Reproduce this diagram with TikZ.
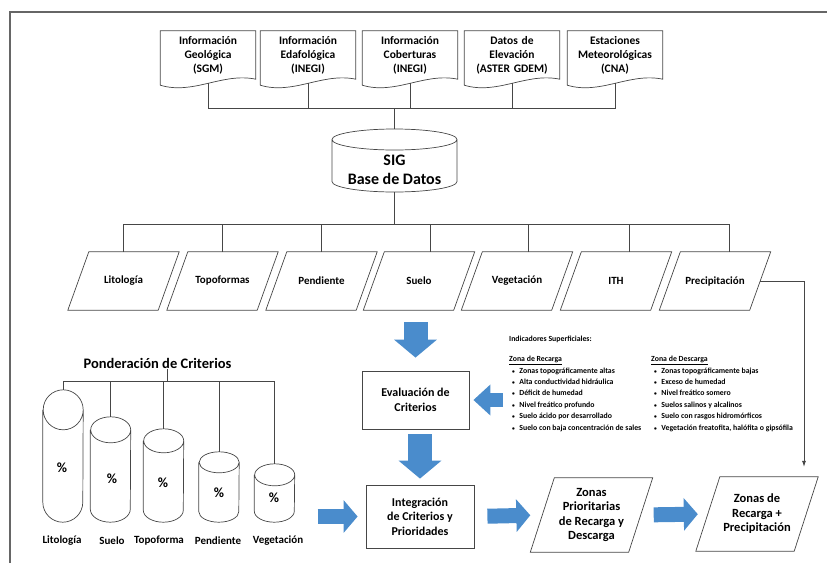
\documentclass[tikz,border=0pt]{standalone}
\usepackage{fontspec}
\setmainfont{Carlito}
\usetikzlibrary{arrows.meta,positioning}

\definecolor{lineg}{RGB}{70,70,70}
\definecolor{arrowblue}{RGB}{74,140,204}
\newcommand{\ibul}{\hspace*{3pt}{\fontsize{5.5}{5}\selectfont\textbullet}\hspace{4.5pt}}

\tikzset{
  link/.style={draw=lineg, line width=0.7pt},
  frame/.style={draw=gray!80!black, line width=1.2pt},
  docbox/.style={minimum width=95pt, minimum height=48pt, text width=93pt, align=center, inner sep=0pt,
    font=\bfseries\fontsize{11.5}{14}\selectfont},
  database/.style={minimum width=125pt, align=center, inner sep=0pt, font=\bfseries\fontsize{16}{19}\selectfont},
  layerbox/.style={minimum width=90pt, minimum height=58pt, inner sep=0pt, font=\bfseries\fontsize{11}{13}\selectfont},
  procbox/.style={draw=lineg, line width=0.8pt, rectangle, align=center, font=\bfseries\fontsize{12}{14.5}\selectfont},
  resbox/.style={minimum width=98pt, minimum height=74pt, inner sep=0pt, align=center,
    font=\bfseries\fontsize{12.5}{14.5}\selectfont},
  weight/.style={minimum width=40pt, inner sep=0pt},
  pct/.style={font=\bfseries\fontsize{14}{16}\selectfont},
  wlabel/.style={font=\bfseries\fontsize{11}{13}\selectfont},
  indtext/.style={align=left, inner sep=2pt, font=\bfseries\fontsize{7.8}{11.4}\selectfont},
  harrow/.style={draw=arrowblue, line width=15pt, -{Triangle[length=14pt,width=32pt]}},
  varrow/.style={draw=arrowblue, line width=24pt, -{Triangle[length=18pt,width=42pt]}},
  thinarrow/.style={link, -{Latex[length=6pt,width=4pt]}}
}

\begin{document}
\begin{tikzpicture}[x=1pt, y=-1pt]
\useasboundingbox (0,0) rectangle (827,563);
\draw[frame] (10,563) -- (10,12) -- (827,12);

% fuentes de informacion
\node[docbox] (geo)  at (208,55) {Información\\Geológica\\(SGM)};
\node[docbox] (eda)  at (308,55) {Información\\Edafológica\\(INEGI)};
\node[docbox] (cob)  at (410,55) {Información\\Coberturas\\(INEGI)};
\node[docbox] (elev) at (512,55) {Datos de\\Elevación\\(ASTER GDEM)};
\node[docbox] (est)  at (615,55) {Estaciones\\Meteorológicas\\(CNA)};
\foreach \n in {geo,eda,cob,elev,est}
  \draw[link] (\n.north west) -- (\n.north east) -- (\n.south east)
    .. controls +(-33,-7) and +(33,10) .. ([yshift=-6pt]\n.south west) -- cycle;

% base de datos
\node[database] (sig) at (394.5,169.5) {SIG\\Base de Datos};
\draw[link] ([shift={(-62.5,-30)}]sig.center) -- ([shift={(-62.5,12)}]sig.center)
  arc[start angle=180, end angle=360, x radius=62.5pt, y radius=10.5pt]
  -- ([shift={(62.5,-30)}]sig.center)
  arc[start angle=0, end angle=360, x radius=62.5pt, y radius=10.5pt];
\draw[link] ([yshift=40.5pt]sig.center) -- ++(0,-21) coordinate (srchub);
\foreach \n in {geo,eda,cob,elev,est}
  \draw[link] (srchub) -| ([yshift=-4pt]\n.south);

% capas
\node[layerbox] (lito)  at (123.5,281) {Litología};
\node[layerbox] (topo)  at (222.5,281) {Topoformas};
\node[layerbox] (pend)  at (321.5,281) {Pendiente};
\node[layerbox] (suelo) at (419,281)   {Suelo};
\node[layerbox] (veg)   at (517,281)   {Vegetación};
\node[layerbox] (ith)   at (616,281)   {ITH};
\node[layerbox] (prec)  at (715,281)   {Precipitación};
\draw[link] ([yshift=-22.5pt]sig.center) -- ++(0,32) coordinate (layhub);
\foreach \n/\dx in {lito/0,topo/0,pend/0,suelo/11,veg/11,ith/13,prec/14}{
  \draw[link] ([xshift=10.5pt]\n.north west) -- ([xshift=10.5pt]\n.north east)
    -- ([xshift=-10.5pt]\n.south east) -- ([xshift=-10.5pt]\n.south west) -- cycle;
  \draw[link] (layhub) -| ([xshift=\dx pt]\n.north);
}

% evaluacion
\node[procbox, minimum width=107pt, minimum height=58pt] (eval) at (415.5,400) {Evaluación de\\Criterios};
\node[procbox, minimum width=108pt, minimum height=63pt] (integ) at (420,516.5) {Integración\\de Criterios y\\Prioridades};
\node[resbox] (prior) at (591.5,515) {Zonas\\Prioritarias\\de Recarga y\\Descarga};
\node[resbox] (zonas) at (757,514) {Zonas de\\Recarga +\\Precipitación};
\foreach \n in {prior,zonas}
  \draw[link] ([xshift=12pt]\n.north west) -- ([xshift=12pt]\n.north east)
    -- ([xshift=-12pt]\n.south east) -- ([xshift=-12pt]\n.south west) -- cycle;

\node[indtext, anchor=west] (indtit) at (507,339) {Indicadores Superficiales:};
\node[indtext, anchor=north west] (recarga) at (507,354) {\underline{Zona de Recarga}\\
  \ibul Zonas topográficamente altas\\
  \ibul Alta conductividad hidráulica\\
  \ibul Déficit de humedad\\
  \ibul Nivel freático profundo\\
  \ibul Suelo ácido por desarrollado\\
  \ibul Suelo con baja concentración de sales};
\node[indtext, anchor=north west] (descarga) at (649,354) {\underline{Zona de Descarga}\\
  \ibul Zonas topográficamente bajas\\
  \ibul Exceso de humedad\\
  \ibul Nivel freático somero\\
  \ibul Suelos salinos y alcalinos\\
  \ibul Suelo con rasgos hidromórficos\\
  \ibul Vegetación freatofita, halófita o gipsófila};

% ponderacion
\node[font=\bfseries\fontsize{14.5}{16}\selectfont, inner sep=1pt] (ponder) at (157.5,363) {Ponderación de Criterios};
\coordinate (ponhub) at (167,381);
\draw[link] (ponhub) -- (ponhub |- ponder.south);
\node[weight, minimum height=92pt] (clito)  at (63,456)      {};
\node[weight, minimum height=79pt] (csuelo) at (110.5,469.5) {};
\node[weight, minimum height=69pt] (ctopo)  at (163.5,475.5) {};
\node[weight, minimum height=49pt] (cpend)  at (219,487)     {};
\node[weight, minimum height=36pt] (cveg)   at (274.5,493)   {};
\foreach \c/\r in {clito/20,csuelo/13,ctopo/12,cpend/10.5,cveg/11}{
  \draw[link] (\c.north west) -- (\c.south west)
    arc[start angle=180, end angle=360, x radius=20pt, y radius=\r pt]
    -- (\c.north east) arc[start angle=0, end angle=360, x radius=20pt, y radius=\r pt];
  \draw[link] (ponhub) -| ([yshift=\r pt]\c.north);
}
\node[pct] (plito)  at (62,468)  {\%};
\node[pct] (psuelo) at (112,479) {\%};
\node[pct] (ptopo)  at (163,483) {\%};
\node[pct] (ppend)  at (219,493) {\%};
\node[pct] (pveg)   at (274,498) {\%};
\node[wlabel] (llito)  at (62,541)  {Litología};
\node[wlabel] (lsuelo) at (112,541) {Suelo};
\node[wlabel] (ltopo)  at (159,541) {Topoforma};
\node[wlabel] (lpend)  at (218,541) {Pendiente};
\node[wlabel] (lveg)   at (278,541) {Vegetación};

% flechas
\draw[varrow, shorten <=12pt, shorten >=13pt] (suelo.south -| eval.north) -- (eval.north);
\draw[varrow, shorten <=5pt, shorten >=6pt] (eval.south -| integ.north) -- (integ.north);
\draw[harrow, line width=14pt, -{Triangle[length=17pt,width=30pt]}, shorten <=4pt, shorten >=4pt]
  (recarga.west |- eval.east) -- (eval.east);
\draw[harrow, shorten <=23pt, shorten >=8pt] (cveg.east |- integ.west) -- (integ.west);
\draw[harrow, shorten <=13pt, shorten >=12pt] (integ.east) -- (prior.west);
\draw[harrow, shorten <=13pt, shorten >=10pt] (prior.east) -- (zonas.west);
\draw[thinarrow, shorten >=10pt] (prec.east) -| ([xshift=47pt]zonas.north);
\end{tikzpicture}
\end{document}
